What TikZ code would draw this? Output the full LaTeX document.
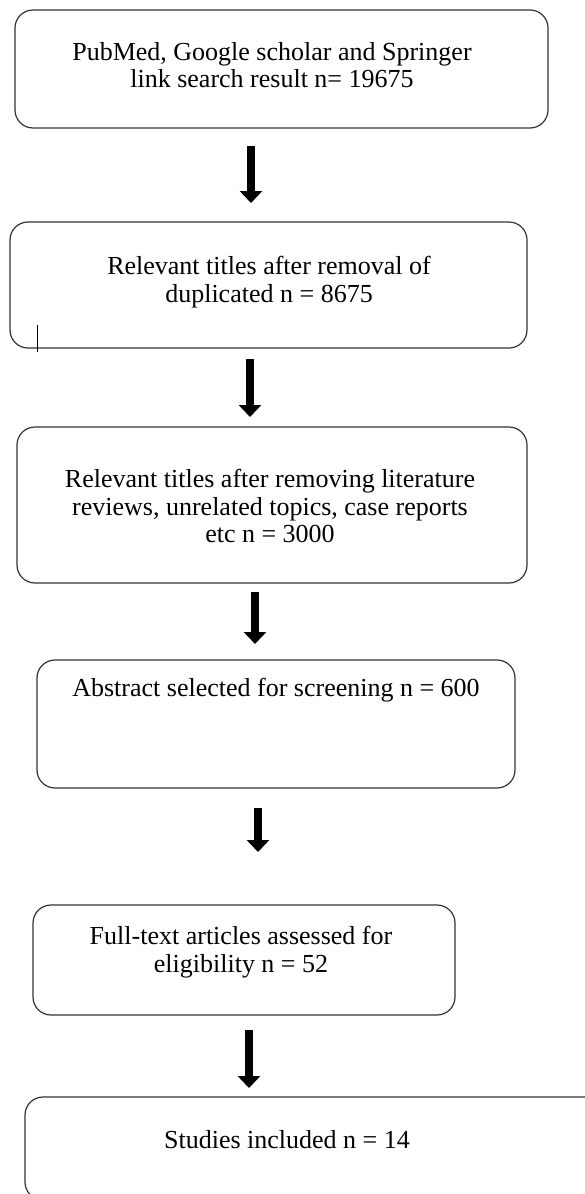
\documentclass[tikz,border=0pt]{standalone}
\usepackage{fontspec}
\setmainfont{Liberation Serif}
\usetikzlibrary{arrows.meta}
\begin{document}
\begin{tikzpicture}[x=1pt,y=-1pt,
 box/.style={draw=black!80, line width=1.2pt, rounded corners=18pt, rectangle, inner sep=0pt},
 lbl/.style={align=center, font=\fontsize{26}{27.5}\selectfont, inner sep=0pt, text=black},
 flow/.style={line width=8pt, -{Triangle[width=22pt,length=12pt]}, black}]
\useasboundingbox (0,0) rectangle (584,1194);
\fill[white] (0,0) rectangle (584,1194);
% boxes
\node[box, minimum width=533pt, minimum height=118pt] (b1) at (281.5,69) {};
\node[box, minimum width=517pt, minimum height=126pt] (b2) at (268.5,285) {};
\node[box, minimum width=510pt, minimum height=156pt] (b3) at (272,505) {};
\node[box, minimum width=478pt, minimum height=128pt] (b4) at (276,724) {};
\node[box, minimum width=422pt, minimum height=110pt] (b5) at (244,960) {};
\node[box, minimum width=585pt, minimum height=103pt] (b6) at (317.5,1148.5) {};
% texts
\node[lbl] (t1) at (272,65) {PubMed, Google scholar and Springer\\link search result n= 19675};
\node[lbl] (t2) at (269,282) {Relevant titles after removal of\\duplicated n = 8675};
\node[lbl] (t3) at (270,506) {Relevant titles after removing literature\\reviews, unrelated topics, case reports\\etc n = 3000};
\node[lbl] (t4) at (276,690) {Abstract selected for screening n = 600};
\node[lbl] (t5) at (241,952) {Full-text articles assessed for\\eligibility n = 52};
\node[lbl] (t6) at (287,1140) {Studies included n = 14};
% stray mark
\coordinate (m1) at (37,325);
\coordinate (m2) at (37,352);
\draw[line width=0.8pt] (m1) -- (m2);
% arrows
\coordinate (a1s) at (251,146); \coordinate (a1e) at (251,203);
\coordinate (a2s) at (250,359); \coordinate (a2e) at (250,417);
\coordinate (a3s) at (255,592); \coordinate (a3e) at (255,644);
\coordinate (a4s) at (258,808); \coordinate (a4e) at (258,852);
\coordinate (a5s) at (249,1030); \coordinate (a5e) at (249,1088);
\draw[flow] (a1s) -- (a1e);
\draw[flow] (a2s) -- (a2e);
\draw[flow] (a3s) -- (a3e);
\draw[flow] (a4s) -- (a4e);
\draw[flow] (a5s) -- (a5e);
\end{tikzpicture}
\end{document}
